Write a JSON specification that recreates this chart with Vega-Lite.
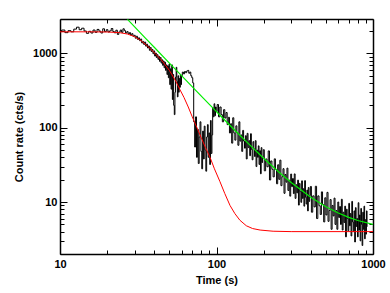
{
  "$schema": "https://vega.github.io/schema/vega-lite/v6.json",
  "width": 313,
  "height": 235,
  "autosize": "none",
  "padding": {"left": 60, "top": 19, "right": 17, "bottom": 39},
  "background": "white",
  "config": {"view": {"stroke": null}},
  "datasets": {
    "lc": [
      {"t":10,"rate":1980},{"t":10.5,"rate":2060},{"t":11,"rate":1900},{"t":11.5,"rate":2020},{"t":12,"rate":1950},{"t":12.5,"rate":2120},{"t":13,"rate":2250},{"t":13.5,"rate":2080},{"t":14,"rate":2180},{"t":14.5,"rate":2000},
      {"t":15,"rate":1860},{"t":15.5,"rate":1980},{"t":16,"rate":1880},{"t":16.5,"rate":2060},{"t":17,"rate":1920},{"t":17.5,"rate":2100},{"t":18,"rate":1990},{"t":18.5,"rate":1880},{"t":19,"rate":2140},{"t":19.5,"rate":1960},
      {"t":20,"rate":2080},{"t":20.5,"rate":1940},{"t":21,"rate":2010},{"t":21.5,"rate":2160},{"t":22,"rate":1970},{"t":22.5,"rate":1890},{"t":23,"rate":2050},{"t":23.5,"rate":1800},{"t":24,"rate":1940},{"t":24.5,"rate":2060},
      {"t":25,"rate":1920},{"t":25.5,"rate":2140},{"t":26,"rate":2020},{"t":26.5,"rate":1880},{"t":27,"rate":1960},{"t":27.5,"rate":1820},{"t":28,"rate":1900},{"t":28.5,"rate":1760},{"t":29,"rate":1840},{"t":29.5,"rate":1700},
      {"t":30,"rate":1750},{"t":30.5,"rate":1600},{"t":31,"rate":1700},{"t":31.5,"rate":1540},{"t":32,"rate":1620},{"t":32.5,"rate":1480},{"t":33,"rate":1560},{"t":33.5,"rate":1380},{"t":34,"rate":1450},{"t":34.5,"rate":1320},
      {"t":35,"rate":1420},{"t":35.5,"rate":1250},{"t":36,"rate":1330},{"t":36.5,"rate":1180},{"t":37,"rate":1260},{"t":37.5,"rate":1100},{"t":38,"rate":1200},{"t":38.5,"rate":1060},{"t":39,"rate":1130},{"t":39.5,"rate":990},
      {"t":40,"rate":1080},{"t":40.5,"rate":920},{"t":41,"rate":1010},{"t":41.5,"rate":880},{"t":42,"rate":960},{"t":42.5,"rate":830},{"t":43,"rate":910},{"t":43.5,"rate":780},{"t":44,"rate":880},{"t":44.5,"rate":740},
      {"t":45,"rate":820},{"t":45.5,"rate":690},{"t":46,"rate":790},{"t":46.5,"rate":640},{"t":47,"rate":760},{"t":47.5,"rate":590},{"t":48,"rate":700},{"t":48.5,"rate":520},{"t":49,"rate":680},{"t":49.5,"rate":470},
      {"t":50,"rate":720},{"t":50.5,"rate":380},{"t":51,"rate":620},{"t":51.5,"rate":330},{"t":52,"rate":700},{"t":52.5,"rate":240},{"t":53,"rate":520},{"t":53.5,"rate":200},{"t":54,"rate":150},{"t":54.5,"rate":300},
      {"t":55,"rate":480},{"t":55.5,"rate":650},{"t":56,"rate":420},{"t":56.5,"rate":260},{"t":57,"rate":500},{"t":57.5,"rate":300},{"t":58,"rate":460},{"t":58.5,"rate":350},{"t":59,"rate":520},{"t":59.5,"rate":380},
      {"t":60,"rate":500},{"t":61,"rate":560},{"t":62,"rate":530},{"t":63,"rate":570},{"t":64,"rate":550},{"t":65,"rate":580},{"t":66,"rate":590},{"t":67,"rate":540},{"t":68,"rate":560},{"t":69,"rate":500},
      {"t":70,"rate":470},{"t":71,"rate":400},{"t":72,"rate":120},{"t":73,"rate":55},{"t":74,"rate":140},{"t":75,"rate":40},{"t":76,"rate":95},{"t":77,"rate":33},{"t":78,"rate":75},{"t":79,"rate":120},
      {"t":80,"rate":48},{"t":81,"rate":28},{"t":82,"rate":90},{"t":83,"rate":38},{"t":84,"rate":105},{"t":85,"rate":50},{"t":86,"rate":26},{"t":87,"rate":75},{"t":88,"rate":110},{"t":89,"rate":40},
      {"t":90,"rate":85},{"t":91,"rate":32},{"t":92,"rate":125},{"t":93,"rate":45},{"t":94,"rate":80},{"t":95,"rate":185},{"t":96,"rate":140},{"t":97,"rate":210},{"t":98,"rate":145},{"t":99,"rate":190},
      {"t":100,"rate":165},{"t":102,"rate":205},{"t":104,"rate":140},{"t":106,"rate":190},{"t":108,"rate":150},{"t":110,"rate":120},{"t":112,"rate":175},{"t":114,"rate":135},{"t":116,"rate":160},{"t":118,"rate":110},
      {"t":120,"rate":138},{"t":122,"rate":85},{"t":124,"rate":113},{"t":126,"rate":62},{"t":128,"rate":136},{"t":130,"rate":85},{"t":132,"rate":68},{"t":134,"rate":106},{"t":136,"rate":85},{"t":138,"rate":58},
      {"t":140,"rate":120},{"t":142,"rate":66},{"t":144,"rate":80},{"t":146,"rate":48},{"t":148,"rate":92},{"t":150,"rate":66},{"t":152,"rate":53},{"t":154,"rate":78},{"t":156,"rate":38},{"t":158,"rate":84},
      {"t":160,"rate":54},{"t":162,"rate":67},{"t":164,"rate":42},{"t":166,"rate":83},{"t":168,"rate":51},{"t":170,"rate":37},{"t":172,"rate":65},{"t":174,"rate":52},{"t":176,"rate":41},{"t":178,"rate":67},
      {"t":180,"rate":30},{"t":182,"rate":50},{"t":184,"rate":40},{"t":186,"rate":57},{"t":188,"rate":32},{"t":190,"rate":49},{"t":192,"rate":24},{"t":194,"rate":54},{"t":196,"rate":34},{"t":198,"rate":40},
      {"t":200,"rate":50.6},{"t":204,"rate":26.3},{"t":208,"rate":38},{"t":212,"rate":29.8},{"t":216,"rate":48.7},{"t":220,"rate":19.8},{"t":224,"rate":35.7},{"t":228,"rate":27.6},{"t":232,"rate":21.8},{"t":236,"rate":38.1},
      {"t":240,"rate":27.5},{"t":244,"rate":17.6},{"t":248,"rate":31.7},{"t":252,"rate":20.2},{"t":256,"rate":36.6},{"t":260,"rate":16.6},{"t":264,"rate":21.9},{"t":268,"rate":28.1},{"t":272,"rate":13.1},{"t":276,"rate":23.5},
      {"t":280,"rate":18.5},{"t":284,"rate":28.6},{"t":288,"rate":14.3},{"t":292,"rate":19.7},{"t":296,"rate":12},{"t":300,"rate":23.8},{"t":304,"rate":16.1},{"t":308,"rate":20.7},{"t":312,"rate":13},{"t":316,"rate":23.9},
      {"t":320,"rate":11.2},{"t":324,"rate":17.1},{"t":328,"rate":13.3},{"t":332,"rate":19.7},{"t":336,"rate":9.1},{"t":340,"rate":17.8},{"t":344,"rate":13.8},{"t":348,"rate":9.9},{"t":352,"rate":19.3},{"t":356,"rate":11.2},
      {"t":360,"rate":15.1},{"t":364,"rate":8.8},{"t":368,"rate":19.4},{"t":372,"rate":11.6},{"t":376,"rate":9.4},{"t":380,"rate":14.5},{"t":384,"rate":7.6},{"t":388,"rate":15.7},{"t":392,"rate":10.2},{"t":396,"rate":12.2},
      {"t":400,"rate":16.2},{"t":408,"rate":7.3},{"t":416,"rate":12.1},{"t":424,"rate":8.6},{"t":432,"rate":16.3},{"t":440,"rate":6.0},{"t":448,"rate":12.1},{"t":456,"rate":8.9},{"t":464,"rate":6.8},{"t":472,"rate":13.7},
      {"t":480,"rate":9.25},{"t":488,"rate":5.4},{"t":496,"rate":11.4},{"t":504,"rate":6.7},{"t":512,"rate":13.5},{"t":520,"rate":5.5},{"t":528,"rate":7.7},{"t":536,"rate":10.8},{"t":544,"rate":4.3},{"t":552,"rate":9.0},
      {"t":560,"rate":6.5},{"t":568,"rate":11.3},{"t":576,"rate":5.0},{"t":584,"rate":7.7},{"t":592,"rate":4.3},{"t":600,"rate":10},{"t":608,"rate":6.2},{"t":616,"rate":8.7},{"t":624,"rate":5.0},{"t":632,"rate":10.9},
      {"t":640,"rate":4.2},{"t":648,"rate":7.3},{"t":656,"rate":5.3},{"t":664,"rate":8.8},{"t":672,"rate":3.4},{"t":680,"rate":8.0},{"t":688,"rate":6.0},{"t":696,"rate":4.1},{"t":704,"rate":9.6},{"t":712,"rate":4.8},
      {"t":720,"rate":7.0},{"t":728,"rate":3.5},{"t":736,"rate":10.2},{"t":744,"rate":5.4},{"t":752,"rate":4.0},{"t":760,"rate":7.6},{"t":768,"rate":2.9},{"t":776,"rate":8.4},{"t":784,"rate":4.7},{"t":792,"rate":6.0},
      {"t":800,"rate":3.4},{"t":808,"rate":9.8},{"t":816,"rate":4.2},{"t":824,"rate":6.7},{"t":832,"rate":3.0},{"t":840,"rate":8.2},{"t":848,"rate":5.0},{"t":856,"rate":2.6},{"t":864,"rate":7.3},{"t":872,"rate":4.3},
      {"t":880,"rate":8.8},{"t":888,"rate":3.2},{"t":896,"rate":5.8},{"t":904,"rate":3.7},{"t":912,"rate":7.6},{"t":920,"rate":4.7}
    ],
    "model": [
      {"t":10,"rate":1950},{"t":15,"rate":1950},{"t":20,"rate":1940},{"t":24,"rate":1900},{"t":27,"rate":1820},{"t":30,"rate":1680},{"t":33,"rate":1480},{"t":36,"rate":1270},{"t":40.5,"rate":1000},{"t":45,"rate":790},
      {"t":50,"rate":590},{"t":55,"rate":420},{"t":58.4,"rate":325},{"t":62,"rate":255},{"t":66,"rate":190},{"t":70,"rate":140},{"t":74.7,"rate":102},{"t":80,"rate":73},{"t":85,"rate":54},{"t":90.9,"rate":40},
      {"t":97,"rate":28},{"t":105,"rate":19},{"t":113,"rate":13},{"t":122,"rate":9},{"t":131,"rate":7},{"t":141,"rate":5.7},{"t":155,"rate":4.8},{"t":170,"rate":4.4},{"t":190,"rate":4.2},{"t":230,"rate":4.05},
      {"t":300,"rate":4.0},{"t":1000,"rate":4.0}
    ],
    "pl": [
      {"t":27,"rate":2860},{"t":30,"rate":2270},{"t":35,"rate":1620},{"t":40,"rate":1208},{"t":50,"rate":741},{"t":60,"rate":498},{"t":75,"rate":306},{"t":90,"rate":206},{"t":110,"rate":134},{"t":130,"rate":94},
      {"t":160,"rate":61},{"t":200,"rate":38.9},{"t":250,"rate":25.4},{"t":300,"rate":18.3},{"t":400,"rate":11.6},{"t":500,"rate":8.66},{"t":600,"rate":7.12},{"t":700,"rate":6.22},{"t":800,"rate":5.65},{"t":1000,"rate":5.01}
    ]
  },
  "layer": [
    {
      "data": {"name": "lc"},
      "mark": {"type": "line", "color": "#000000", "strokeWidth": 1, "interpolate": "step", "clip": true},
      "encoding": {
        "x": {"field": "t", "type": "quantitative",
          "scale": {"type": "log", "domain": [10, 1000], "nice": false},
          "axis": {"orient": "bottom",
            "values": [10,20,30,40,50,60,70,80,90,100,200,300,400,500,600,700,800,900,1000],
            "tickSize": {"condition": {"test": "datum.value==10||datum.value==100||datum.value==1000", "value": -7}, "value": -4},
            "tickColor": "#000", "tickWidth": 1, "domainColor": "#000", "domainWidth": 1.5, "grid": false,
            "labelExpr": "(datum.value==10||datum.value==100||datum.value==1000) ? format(datum.value,'d') : ''",
            "labelFont": "Liberation Sans", "labelFontWeight": "bold", "labelFontSize": 11, "labelColor": "#000",
            "labelPadding": 11, "labelOverlap": false, "labelFlush": false,
            "title": "Time (s)", "titleFont": "Liberation Sans", "titleFontWeight": "bold", "titleFontSize": 11, "titleColor": "#000", "titlePadding": 2}},
        "y": {"field": "rate", "type": "quantitative",
          "scale": {"type": "log", "domain": [2, 2900], "nice": false},
          "axis": {"orient": "left",
            "values": [2,3,4,5,6,7,8,9,10,20,30,40,50,60,70,80,90,100,200,300,400,500,600,700,800,900,1000,2000],
            "tickSize": {"condition": {"test": "datum.value==10||datum.value==100||datum.value==1000", "value": -7}, "value": -4},
            "tickColor": "#000", "tickWidth": 1, "domainColor": "#000", "domainWidth": 1.5, "grid": false,
            "labelExpr": "(datum.value==10||datum.value==100||datum.value==1000) ? format(datum.value,'d') : ''",
            "labelFont": "Liberation Sans", "labelFontWeight": "bold", "labelFontSize": 11, "labelColor": "#000",
            "labelPadding": 10, "labelOverlap": false,
            "title": "Count rate (cts/s)", "titleFont": "Liberation Sans", "titleFontWeight": "bold", "titleFontSize": 11, "titleColor": "#000", "titlePadding": 8}}
      }
    },
    {
      "data": {"name": "model"},
      "mark": {"type": "line", "color": "#ff0000", "strokeWidth": 1, "clip": true},
      "encoding": {
        "x": {"field": "t", "type": "quantitative",
          "axis": {"orient": "top",
            "values": [10,20,30,40,50,60,70,80,90,100,200,300,400,500,600,700,800,900,1000],
            "tickSize": {"condition": {"test": "datum.value==10||datum.value==100||datum.value==1000", "value": -7}, "value": -4},
            "tickColor": "#000", "tickWidth": 1, "domainColor": "#000", "domainWidth": 1.5, "grid": false,
            "labels": false, "title": null}},
        "y": {"field": "rate", "type": "quantitative",
          "axis": {"orient": "right",
            "values": [2,3,4,5,6,7,8,9,10,20,30,40,50,60,70,80,90,100,200,300,400,500,600,700,800,900,1000,2000],
            "tickSize": {"condition": {"test": "datum.value==10||datum.value==100||datum.value==1000", "value": -7}, "value": -4},
            "tickColor": "#000", "tickWidth": 1, "domainColor": "#000", "domainWidth": 1.5, "grid": false,
            "labels": false, "title": null}}
      }
    },
    {
      "data": {"name": "pl"},
      "mark": {"type": "line", "color": "#00ee00", "strokeWidth": 1.2, "clip": true},
      "encoding": {
        "x": {"field": "t", "type": "quantitative", "axis": null},
        "y": {"field": "rate", "type": "quantitative", "axis": null}
      }
    }
  ],
  "resolve": {"axis": {"x": "independent", "y": "independent"}}
}
